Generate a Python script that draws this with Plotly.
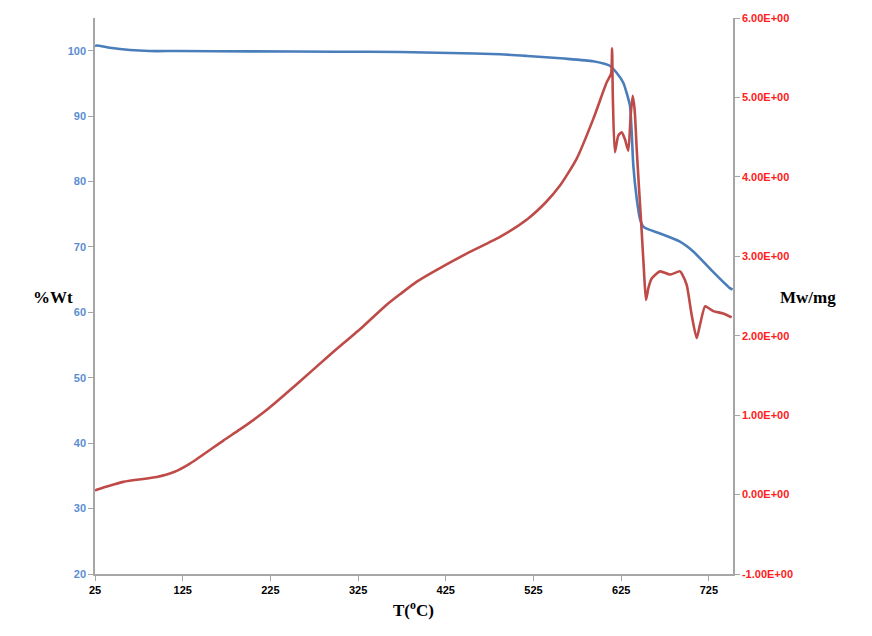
import plotly.graph_objects as go

# TGA (%Wt) curve
t_wt = [25, 26.9, 42, 65, 87, 120, 200, 300, 373, 430, 487, 518, 560, 593, 606, 612, 620,
        627.4, 631.1, 635, 637, 638.8, 642.7, 646.4, 650.2, 654, 669.3, 692, 707.2, 726.1, 749, 752]
wt = [100.7, 100.8, 100.45, 100.1, 99.95, 99.95, 99.9, 99.85, 99.8, 99.65, 99.45, 99.2, 98.8, 98.4, 98.0, 97.7, 96.6,
      95.1, 93.6, 91.6, 87.5, 82.5, 77.4, 74.3, 73.1, 72.8, 72.05, 70.8, 69.3, 66.7, 63.7, 63.5]

# DSC (Mw/mg) curve
t_dsc = [25, 26.9, 57.3, 95.4, 114.3, 133.3, 171.3, 190.3, 209.4, 224.5, 255.0, 293.0, 331.0, 357.6,
         373.8, 392.0, 411.7, 449.8,
         487.8, 518.3, 539.1, 555.2, 574.3, 593.2, 608.5, 613.5, 614.6, 615.5, 617.8, 621.7, 625.6, 629.4,
         633.1, 635.8, 638.1, 640.3, 642.7, 645.6, 648.4, 651.0, 653.3, 656.0, 659.8, 669.3, 680.7, 692.1,
         694.7, 699.7, 705.4, 711.1, 714.9, 720.6, 724.3, 730.0, 741.4, 751.0]
dsc = [0.05, 0.06, 0.16, 0.22, 0.28, 0.39, 0.68, 0.82, 0.97, 1.10, 1.39, 1.76, 2.12, 2.39,
       2.53, 2.68, 2.81, 3.04,
       3.25, 3.47, 3.68, 3.89, 4.23, 4.73, 5.19, 5.3, 5.62, 5.0, 4.31, 4.52, 4.56, 4.47,
       4.33, 4.77, 5.02, 4.85, 4.35, 3.81, 3.31, 2.81, 2.45, 2.60, 2.72, 2.81, 2.77, 2.81,
       2.77, 2.64, 2.26, 1.97, 2.14, 2.37, 2.35, 2.31, 2.28, 2.23]

x_ticks = [25, 125, 225, 325, 425, 525, 625, 725]
y1_ticks = [20, 30, 40, 50, 60, 70, 80, 90, 100]
y2_ticks = [-1, 0, 1, 2, 3, 4, 5, 6]
y2_text = ["-1.00E+00", "0.00E+00", "1.00E+00", "2.00E+00", "3.00E+00", "4.00E+00", "5.00E+00", "6.00E+00"]

fig = go.Figure()
fig.add_trace(go.Scatter(x=t_wt, y=wt, mode="lines",
                         line=dict(color="#4A7EBB", width=2.6, shape="spline", smoothing=0.6),
                         showlegend=False, yaxis="y"))
fig.add_trace(go.Scatter(x=t_dsc, y=dsc, mode="lines",
                         line=dict(color="#BE4B48", width=2.6, shape="spline", smoothing=0.6),
                         showlegend=False, yaxis="y2"))

fig.update_layout(
    width=872, height=636,
    margin=dict(l=95, r=139, t=15, b=62),
    paper_bgcolor="white", plot_bgcolor="white",
    xaxis=dict(range=[25, 752.5], tickvals=x_ticks, ticktext=[f"<b>{v}</b>" for v in x_ticks],
               showgrid=False, zeroline=False, showline=True, linecolor="#A6A6A6", linewidth=1.5,
               ticks="outside", ticklen=5, tickcolor="#A6A6A6",
               tickfont=dict(family="Liberation Sans", size=11, color="#000000")),
    yaxis=dict(range=[20, 105], tickvals=y1_ticks, ticktext=[f"<b>{v}</b>" for v in y1_ticks],
               showgrid=False, zeroline=False, showline=True, linecolor="#A6A6A6", linewidth=1.5,
               ticks="outside", ticklen=5, tickcolor="#A6A6A6",
               tickfont=dict(family="Liberation Sans", size=11, color="#5B8DD4")),
    yaxis2=dict(range=[-1, 6], tickvals=y2_ticks, ticktext=[f"<b>{t}</b>" for t in y2_text],
                overlaying="y", side="right",
                showgrid=False, zeroline=False, showline=True, linecolor="#A6A6A6", linewidth=1.5,
                ticks="outside", ticklen=5, tickcolor="#A6A6A6",
                tickfont=dict(family="Liberation Sans", size=11, color="#FF2020")),
)

pw, ph = 872 - 95 - 139, 636 - 15 - 62
def ann(text, px, py):
    fig.add_annotation(text=text, x=(px - 95) / pw, y=1 - (py - 15) / ph,
                       xref="paper", yref="paper", showarrow=False,
                       font=dict(family="Liberation Serif", size=17, color="black"))

ann("<b>%Wt</b>", 31, 296)
ann("<b>Mw/mg</b>", 838, 296)
ann("<b>T(<sup>o</sup>C)</b>", 413, 622)

fig.write_html("out.html")
